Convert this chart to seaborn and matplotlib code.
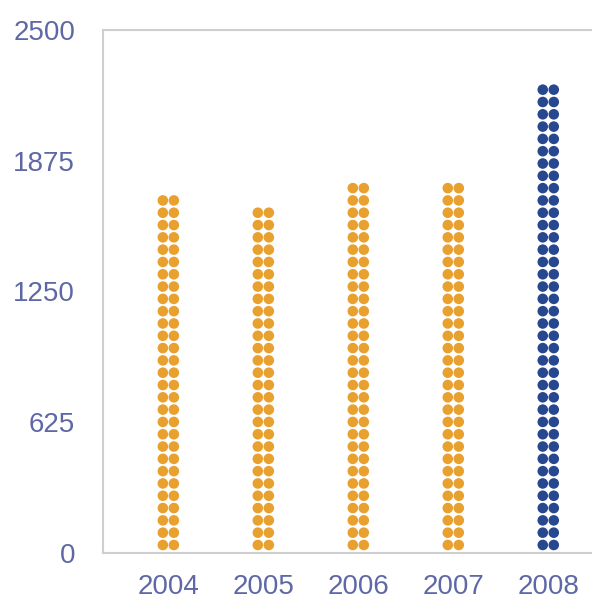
import pandas as pd
import matplotlib.pyplot as plt
import seaborn as sns
import numpy as np

# data
years = ['2004', '2005', '2006', '2007', '2008']
values = [1700, 1650, 1760, 1760, 2230]
highlight = ['past', 'past', 'past', 'past', 'latest']
y_ticks = [0, 625, 1250, 1875, 2500]

row_unit = 58.8  # value covered by one row of two dots

# build one row per dot
rows = []
for i, (year, val, grp) in enumerate(zip(years, values, highlight)):
    n = int(round(val / row_unit))
    for r in range(n):
        for side in (-1, 1):
            rows.append({'pos': i + side * 0.058, 'y': (r + 0.65) * row_unit, 'group': grp})
df = pd.DataFrame(rows)

sns.set_style("white")
plt.rcParams['font.family'] = ['Liberation Sans', 'DejaVu Sans']

fig = plt.figure(figsize=(5.92, 6.08), dpi=100)
ax = fig.add_axes([0.174, 0.0905, 0.85, 0.8605])

sns.scatterplot(data=df, x='pos', y='y', hue='group',
                palette={'past': '#E8A02E', 'latest': '#27478F'},
                s=58, edgecolor='none', legend=False, ax=ax)

ax.set_xlim(-0.688, 4.61)
ax.set_ylim(0, 2500)
ax.set_xticks(range(len(years)))
ax.set_xticklabels(years)
ax.set_yticks(y_ticks)
ax.set_xlabel('')
ax.set_ylabel('')

label_color = '#5F68A6'
ax.tick_params(axis='x', length=0, pad=15, labelsize=20, labelcolor=label_color)
ax.tick_params(axis='y', length=0, pad=20, labelsize=20, labelcolor=label_color)

for side in ax.spines.values():
    side.set_color('#CFCFCF')
    side.set_linewidth(1.5)

plt.savefig('out.png', dpi=100)
plt.close()
